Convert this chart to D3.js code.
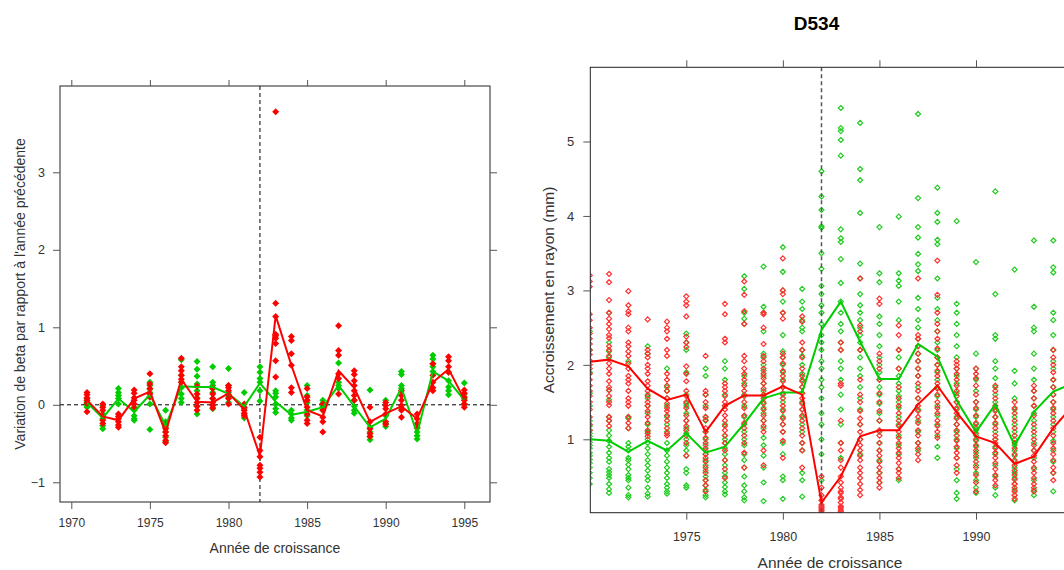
<!DOCTYPE html>
<html>
<head>
<meta charset="utf-8">
<script src="https://cdn.jsdelivr.net/npm/d3@7"></script>
<style>
body { margin: 0; background: #fff; }
</style>
</head>
<body>
<script>
// ---- left panel : variation of beta vs previous year ----
const yearsL = [1971,1972,1973,1974,1975,1976,1977,1978,1979,1980,1981,1982,1983,1984,1985,1986,1987,1988,1989,1990,1991,1992,1993,1994,1995];
const meanGreenL = [0.03,-0.17,0.08,-0.09,0.13,-0.27,0.24,0.23,0.23,0.14,-0.02,0.28,0.04,-0.13,-0.09,-0.03,0.25,-0.02,-0.29,-0.18,0.22,-0.37,0.43,0.31,0.06];
const meanRedL = [0.06,-0.15,-0.2,0.08,0.17,-0.36,0.33,0.04,0.03,0.15,-0.06,-0.66,1.15,0.51,-0.07,-0.15,0.44,0.22,-0.22,-0.11,-0.02,-0.18,0.29,0.46,0.07];
const ptsGreenL = [
  [0.08,0.03,-0.01,-0.03,0.05],
  [-0.01,-0.18,-0.27,-0.31,-0.12],
  [0.21,0.16,0.12,0.08,0.01],
  [-0.03,-0.07,-0.14,-0.18,-0.2],
  [0.29,0.25,0.2,0.16,0.1,0.01,-0.32],
  [-0.07,-0.22,-0.29,-0.35,-0.42,-0.48],
  [0.58,0.38,0.29,0.22,0.14,0.08,0.03],
  [0.56,0.46,0.37,0.27,0.18,0.09,-0.02,-0.12],
  [0.49,0.29,0.25,0.21,0.16,0.08,-0.05],
  [0.47,0.25,0.16,0.1,0.03],
  [0.16,-0.05,-0.12,-0.17],
  [0.49,0.42,0.34,0.29,0.18,0.05],
  [0.18,0.15,0.1,0.01,-0.05,-0.1],
  [-0.07,-0.12,-0.17,-0.2],
  [0.25,0.12,0.03,-0.07,-0.14],
  [0.06,0.02,-0.02,-0.07],
  [0.54,0.29,0.25,0.21],
  [0.06,-0.02,-0.07,-0.11],
  [0.19,-0.29,-0.35,-0.41,-0.45],
  [0.06,-0.14,-0.24,-0.28],
  [0.43,0.39,0.25,0.21,-0.05],
  [-0.29,-0.35,-0.4,-0.44],
  [0.64,0.59,0.53,0.49,0.43],
  [0.42,0.31,0.23,0.18,0.13],
  [0.28,0.14,0.08,0.01]
];
const ptsRedL = [
  [0.16,0.13,0.09,0.06,0.02,-0.09],
  [0.01,-0.03,-0.07,-0.14,-0.2,-0.24],
  [-0.12,-0.15,-0.18,-0.22,-0.26,-0.29],
  [0.19,0.15,0.09,0.06,0.01,-0.04],
  [0.4,0.27,0.21,0.14,0.1],
  [-0.25,-0.31,-0.35,-0.4,-0.46,-0.49],
  [0.6,0.49,0.44,0.38,0.33,0.29],
  [0.24,0.14,0.08,0.03,-0.02,-0.07],
  [0.21,0.14,0.08,0.03,-0.01,-0.04],
  [0.25,0.22,0.18,0.13,0.08,0.01],
  [0.01,-0.03,-0.07,-0.11,-0.14],
  [-0.42,-0.59,-0.67,-0.78,-0.82,-0.87,-0.93],
  [3.78,1.31,1.14,0.91,0.89,0.86,0.79,0.57,0.36],
  [0.88,0.83,0.66,0.51,0.22,0.16],
  [0.21,0.1,0.06,-0.03,-0.12,-0.2,-0.24],
  [0.01,-0.07,-0.16,-0.22,-0.35],
  [1.02,0.7,0.64,0.4,0.34,0.14],
  [0.44,0.39,0.31,0.25,0.18,0.12,0.06],
  [-0.03,-0.22,-0.31,-0.37,-0.41],
  [0.03,-0.01,-0.05,-0.12,-0.22,-0.25],
  [0.18,0.12,0.06,-0.01,-0.07,-0.16],
  [-0.12,-0.18,-0.24,-0.3],
  [0.53,0.38,0.29,0.22,0.18],
  [0.62,0.57,0.49,0.42],
  [0.19,0.15,0.1,0.06,0.01,-0.03]
];
const xTicksL = [1970,1975,1980,1985,1990,1995];
const yTicksL = [-1,0,1,2,3];

// ---- right panel : D534, radial increment ----
const yearsR = [1970,1971,1972,1973,1974,1975,1976,1977,1978,1979,1980,1981,1982,1983,1984,1985,1986,1987,1988,1989,1990,1991,1992,1993,1994,1995];
const meanGreenR = [1.0,0.98,0.83,0.98,0.85,1.08,0.82,0.9,1.21,1.55,1.63,1.63,2.47,2.85,2.31,1.81,1.81,2.28,2.11,1.52,1.1,1.47,0.92,1.37,1.64,1.75];
const meanRedR = [2.04,2.07,1.98,1.68,1.53,1.6,1.1,1.45,1.59,1.59,1.71,1.6,0.15,0.5,1.04,1.12,1.12,1.47,1.72,1.36,1.04,0.95,0.67,0.77,1.15,1.45];
const ptsGreenR = [
  [0.4,0.48,0.55,0.62,0.68,0.73,0.78,0.82,0.88,0.92,0.96,1.0,1.04,1.08,1.12,1.18,1.25,1.45,1.62,1.9,2.2,2.45],
  [2.7,2.3,2.18,2.1,1.66,1.53,1.3,1.25,1.12,1.05,0.98,0.9,0.82,0.75,0.7,0.6,0.56,0.52,0.48,0.4,0.33,0.28],
  [2.05,1.3,1.28,1.15,0.95,0.9,0.85,0.75,0.72,0.66,0.6,0.52,0.48,0.45,0.35,0.25,0.22],
  [2.25,2.15,1.6,1.55,1.45,1.35,1.2,1.1,1.0,0.95,0.88,0.8,0.72,0.65,0.58,0.5,0.45,0.35,0.27,0.23],
  [1.95,1.7,1.65,1.55,1.45,1.3,1.2,1.1,0.95,0.85,0.78,0.7,0.62,0.55,0.48,0.4,0.35,0.3,0.27],
  [2.42,2.3,2.2,1.9,1.6,1.48,1.45,1.35,1.25,1.15,1.08,1.0,0.92,0.85,0.78,0.6,0.55,0.38,0.35],
  [1.95,1.85,1.6,1.45,1.3,1.25,1.1,1.0,0.92,0.85,0.8,0.72,0.65,0.58,0.5,0.45,0.38,0.32,0.25,0.22],
  [2.05,1.95,1.8,1.6,1.45,1.2,1.05,1.0,0.95,0.88,0.8,0.72,0.65,0.55,0.5,0.42,0.36,0.3,0.26],
  [3.19,3.02,2.7,2.62,2.55,1.85,1.75,1.6,1.45,1.3,1.2,1.1,1.0,0.92,0.8,0.72,0.62,0.5,0.38,0.3,0.22,0.18],
  [3.32,2.78,2.7,2.45,2.15,2.1,2.0,1.92,1.85,1.75,1.65,1.58,1.5,1.42,1.35,1.25,1.15,1.02,0.92,0.78,0.62,0.42,0.17],
  [3.58,3.25,3.0,2.85,2.7,2.4,2.18,2.1,2.0,1.9,1.8,1.7,1.6,1.5,1.4,1.3,1.2,1.1,0.95,0.8,0.5,0.45,0.2],
  [3.02,2.85,2.75,2.6,2.5,2.45,2.2,2.12,2.0,1.88,1.8,1.7,1.62,1.5,1.4,1.3,1.2,1.1,0.95,0.85,0.55,0.45,0.23],
  [4.6,4.26,4.08,3.86,3.84,3.5,3.29,3.06,2.95,2.8,2.7,2.55,2.4,2.3,2.2,2.05,1.95,1.8,1.7,1.55,1.35,1.2,1.0,0.8,0.45],
  [5.45,5.18,5.14,5.02,4.81,3.82,3.7,3.65,3.42,3.1,2.85,2.7,2.55,2.45,2.3,2.2,2.05,1.95,1.8,1.6,1.4,1.2,0.95,0.75],
  [5.25,4.63,4.48,4.04,3.36,3.16,2.95,2.8,2.7,2.6,2.5,2.4,2.3,2.2,2.1,1.95,1.85,1.7,1.55,1.4,1.2,1.0,0.8],
  [3.85,3.23,3.11,2.65,2.55,2.4,2.25,2.1,2.0,1.9,1.8,1.7,1.6,1.48,1.35,1.25,1.1,0.95,0.85,0.72,0.55,0.42],
  [3.99,3.23,3.13,3.06,2.85,2.6,2.2,2.1,1.95,1.85,1.75,1.65,1.58,1.5,1.42,1.3,1.2,1.05,0.92,0.8,0.6,0.45],
  [5.37,4.24,3.85,3.71,3.49,3.35,3.26,2.9,2.75,2.6,2.5,2.35,2.25,2.15,2.05,1.95,1.85,1.7,1.55,1.4,1.25,1.1,0.95,0.85],
  [4.38,4.04,3.92,3.68,3.62,3.16,2.9,2.75,2.6,2.45,2.3,2.2,2.1,2.0,1.9,1.8,1.7,1.58,1.45,1.32,1.2,1.05,0.9,0.75],
  [3.93,2.82,2.7,2.55,2.4,2.25,2.1,1.95,1.85,1.75,1.62,1.5,1.4,1.3,1.2,1.1,1.0,0.88,0.75,0.6,0.45,0.28,0.2],
  [3.38,2.15,1.95,1.8,1.65,1.5,1.4,1.3,1.2,1.12,1.05,0.98,0.9,0.82,0.75,0.65,0.55,0.45,0.35,0.28],
  [4.33,2.95,2.4,2.35,2.05,1.95,1.82,1.7,1.6,1.5,1.4,1.3,1.2,1.1,1.0,0.9,0.8,0.65,0.5,0.35,0.25],
  [3.28,1.92,1.75,1.55,1.4,1.3,1.2,1.1,1.0,0.92,0.85,0.78,0.7,0.62,0.55,0.48,0.4,0.32,0.25,0.18],
  [3.67,2.78,2.5,2.45,2.15,1.95,1.8,1.65,1.55,1.45,1.35,1.25,1.15,1.05,0.95,0.85,0.75,0.6,0.45,0.32,0.25],
  [3.67,3.31,3.24,2.7,2.6,2.4,2.2,2.05,1.95,1.8,1.7,1.6,1.5,1.4,1.3,1.2,1.1,0.98,0.85,0.7,0.55,0.3],
  [2.6,2.1,1.8,1.5,1.2]
];
const ptsRedR = [
  [3.2,3.12,3.05,2.68,2.6,2.5,2.42,2.35,2.28,2.2,2.14,2.06,2.0,1.95,1.88,1.8,1.72,1.65,1.58,1.5,1.4,1.3,1.2,1.12],
  [3.22,3.11,2.87,2.7,2.62,2.55,2.48,2.4,2.36,2.25,2.2,2.12,2.02,1.95,1.88,1.78,1.7,1.66,1.58,1.5,1.46,1.3,1.25,1.18],
  [2.99,2.8,2.72,2.68,2.5,2.45,2.3,2.25,2.18,2.12,2.02,1.95,1.85,1.8,1.75,1.65,1.55,1.5,1.45,1.3,1.22,1.15],
  [2.61,2.2,2.15,2.1,2.0,1.95,1.88,1.78,1.72,1.65,1.58,1.5,1.45,1.38,1.3,1.22,1.12,1.08,1.04],
  [2.58,2.5,2.45,2.35,2.2,2.12,1.88,1.8,1.72,1.65,1.55,1.48,1.42,1.38,1.32,1.25,1.15,1.08,1.05],
  [2.92,2.85,2.8,2.65,2.38,2.3,2.24,1.98,1.88,1.78,1.65,1.58,1.5,1.42,1.32,1.25,1.18,1.12,1.05,0.95,0.78],
  [2.12,1.65,1.6,1.5,1.42,1.3,1.26,1.15,1.1,1.02,0.95,0.88,0.8,0.75,0.7,0.62,0.55,0.45,0.38,0.3],
  [2.82,2.68,2.35,2.3,1.75,1.7,1.65,1.58,1.5,1.45,1.4,1.32,1.25,1.18,1.12,1.05,0.95,0.85,0.72,0.6,0.48],
  [3.12,2.94,2.72,2.55,2.12,2.05,1.95,1.88,1.8,1.72,1.65,1.58,1.5,1.42,1.32,1.22,1.15,1.05,0.95,0.82,0.62],
  [2.7,2.68,2.5,2.28,2.12,2.05,1.95,1.88,1.82,1.75,1.68,1.6,1.55,1.48,1.4,1.32,1.25,1.18,1.1,0.85,0.65],
  [3.43,3.0,2.95,2.7,2.62,2.15,2.1,2.02,1.92,1.85,1.78,1.7,1.62,1.55,1.45,1.38,1.28,1.2,1.1,0.98,0.75],
  [2.65,2.58,2.3,2.2,2.1,1.95,1.85,1.78,1.7,1.62,1.55,1.48,1.4,1.32,1.25,1.15,1.05,0.95,0.85,0.62],
  [0.5,0.35,0.25,0.18,0.12,0.1,0.08,0.06,0.04,0.02],
  [2.3,2.2,1.75,1.72,1.25,0.95,0.85,0.72,0.62,0.5,0.42,0.35,0.3,0.28,0.22,0.2,0.15,0.1,0.08,0.05,0.03],
  [3.16,2.53,2.45,2.2,1.8,1.6,1.5,1.38,1.28,1.2,1.1,1.0,0.92,0.85,0.78,0.72,0.62,0.55,0.48,0.4,0.32,0.25],
  [2.89,2.82,2.15,2.05,1.95,1.8,1.62,1.5,1.38,1.25,1.12,1.05,0.95,0.85,0.78,0.7,0.62,0.55,0.48,0.42,0.35],
  [2.53,2.4,2.2,1.95,1.7,1.55,1.45,1.35,1.25,1.18,1.1,1.02,0.95,0.88,0.82,0.75,0.68,0.6,0.55,0.48],
  [3.16,2.4,2.35,2.25,2.15,2.05,1.95,1.85,1.75,1.65,1.55,1.45,1.38,1.3,1.22,1.12,1.05,0.95,0.88,0.8,0.72],
  [3.4,2.94,2.7,2.55,2.45,2.35,2.22,2.1,2.0,1.92,1.85,1.75,1.68,1.6,1.5,1.42,1.35,1.25,1.18,1.1,1.02],
  [2.05,2.0,1.95,1.88,1.8,1.72,1.65,1.58,1.5,1.42,1.35,1.28,1.2,1.12,1.05,0.98,0.9,0.82,0.75,0.65,0.55],
  [1.95,1.88,1.82,1.72,1.6,1.5,1.42,1.32,1.22,1.15,1.08,1.0,0.92,0.85,0.78,0.7,0.62,0.52,0.42,0.3],
  [1.72,1.65,1.55,1.45,1.38,1.3,1.22,1.15,1.05,1.0,0.95,0.88,0.82,0.75,0.68,0.6,0.52,0.45,0.38],
  [1.5,1.42,1.35,1.25,1.15,1.05,0.95,0.88,0.8,0.72,0.65,0.58,0.52,0.46,0.4,0.35,0.3,0.25,0.2],
  [1.72,1.65,1.55,1.45,1.32,1.2,1.1,1.0,0.92,0.85,0.78,0.7,0.62,0.55,0.48,0.4,0.35,0.3],
  [2.2,2.1,2.0,1.9,1.8,1.7,1.6,1.5,1.42,1.35,1.25,1.15,1.05,0.95,0.88,0.8,0.72,0.62,0.55,0.45],
  [2.2,1.8,1.5,1.2,0.9]
];
const xTicksR = [1970,1975,1980,1985,1990,1995];
const yTicksR = [1,2,3,4,5];

const GREEN = "#00cd00", RED = "#ff0000";
const FONT = "'Liberation Sans', Arial, sans-serif";
const W = 1064, H = 570;

const svg = d3.select("body").append("svg")
  .attr("width", W).attr("height", H)
  .style("font-family", FONT);

function diamond(r) {
  return "M0," + (-r) + "L" + r + ",0L0," + r + "L" + (-r) + ",0Z";
}

function flat(years, pts) {
  const out = [];
  years.forEach((yr, i) => pts[i].forEach(v => out.push([yr, v])));
  return out;
}

function styleAxis(g, size, color) {
  g.select(".domain").remove();
  g.attr("font-family", FONT).attr("font-size", size);
  g.selectAll("line").attr("stroke", "#555");
  g.selectAll("text").attr("fill", color);
}

// ================= LEFT PANEL =================
const boxL = {x0: 60, x1: 490, y0: 86, y1: 502};
const xL = d3.scaleLinear().domain([1970, 1995]).range([71.3, 464.3]);
const yL = d3.scaleLinear().domain([-1, 3]).range([482.3, 172.3]);

svg.append("clipPath").attr("id", "clipL").append("rect")
  .attr("x", boxL.x0).attr("y", boxL.y0)
  .attr("width", boxL.x1 - boxL.x0).attr("height", boxL.y1 - boxL.y0);

const gL = svg.append("g").attr("clip-path", "url(#clipL)");

gL.append("line")
  .attr("x1", boxL.x0).attr("x2", boxL.x1)
  .attr("y1", yL(0)).attr("y2", yL(0))
  .attr("stroke", "#000").attr("stroke-dasharray", "4,3");
gL.append("line")
  .attr("x1", xL(1982)).attr("x2", xL(1982))
  .attr("y1", boxL.y0).attr("y2", boxL.y1)
  .attr("stroke", "#000").attr("stroke-dasharray", "4,3");

gL.selectAll("path.pg").data(flat(yearsL, ptsGreenL)).enter()
  .append("path").attr("class", "pg")
  .attr("d", diamond(3.5))
  .attr("transform", d => "translate(" + xL(d[0]) + "," + yL(d[1]) + ")")
  .attr("fill", GREEN);
gL.selectAll("path.pr").data(flat(yearsL, ptsRedL)).enter()
  .append("path").attr("class", "pr")
  .attr("d", diamond(3.5))
  .attr("transform", d => "translate(" + xL(d[0]) + "," + yL(d[1]) + ")")
  .attr("fill", RED);

const lineL = d3.line().x((d, i) => xL(yearsL[i])).y(d => yL(d));
gL.append("path").attr("d", lineL(meanGreenL))
  .attr("fill", "none").attr("stroke", GREEN).attr("stroke-width", 2);
gL.append("path").attr("d", lineL(meanRedL))
  .attr("fill", "none").attr("stroke", RED).attr("stroke-width", 2);

svg.append("rect")
  .attr("x", boxL.x0).attr("y", boxL.y0)
  .attr("width", boxL.x1 - boxL.x0).attr("height", boxL.y1 - boxL.y0)
  .attr("fill", "none").attr("stroke", "#222");

svg.append("g").attr("transform", "translate(0," + boxL.y1 + ")")
  .call(d3.axisBottom(xL).tickValues(xTicksL).tickFormat(d3.format("d")).tickSize(7).tickPadding(9))
  .call(g => styleAxis(g, 12, "#333"));
svg.append("g").attr("transform", "translate(0," + boxL.y0 + ")")
  .call(d3.axisTop(xL).tickValues(xTicksL).tickFormat("").tickSize(6))
  .call(g => styleAxis(g, 12, "#333"));
svg.append("g").attr("transform", "translate(" + boxL.x0 + ",0)")
  .call(d3.axisLeft(yL).tickValues(yTicksL).tickFormat(d3.format("d")).tickSize(7).tickPadding(8))
  .call(g => styleAxis(g, 12.5, "#333"));
svg.append("g").attr("transform", "translate(" + boxL.x1 + ",0)")
  .call(d3.axisRight(yL).tickValues(yTicksL).tickFormat("").tickSize(7))
  .call(g => styleAxis(g, 12.5, "#333"));

svg.append("text").attr("x", 275).attr("y", 552.5)
  .attr("text-anchor", "middle").attr("font-size", 14).attr("fill", "#333")
  .text("Année de croissance");
svg.append("text").attr("transform", "translate(24.5,294) rotate(-90)")
  .attr("text-anchor", "middle").attr("font-size", 14).attr("fill", "#333")
  .text("Variation de beta par rapport à l'année précédente");

// ================= RIGHT PANEL =================
const boxR = {x0: 590.3, x1: 1090, y0: 67.3, y1: 512.7};
const xR = d3.scaleLinear().domain([1975, 1990]).range([686.3, 976]);
const yR = d3.scaleLinear().domain([1, 5]).range([439.3, 141.5]);

svg.append("clipPath").attr("id", "clipR").append("rect")
  .attr("x", boxR.x0).attr("y", boxR.y0)
  .attr("width", boxR.x1 - boxR.x0).attr("height", boxR.y1 - boxR.y0);

const gR = svg.append("g").attr("clip-path", "url(#clipR)");

gR.selectAll("path.og").data(flat(yearsR, ptsGreenR)).enter()
  .append("path").attr("class", "og")
  .attr("d", diamond(2.5))
  .attr("transform", d => "translate(" + xR(d[0]) + "," + yR(d[1]) + ")")
  .attr("fill", "none").attr("stroke", "#22cc22").attr("stroke-width", 1.2);
gR.selectAll("path.or").data(flat(yearsR, ptsRedR)).enter()
  .append("path").attr("class", "or")
  .attr("d", diamond(2.5))
  .attr("transform", d => "translate(" + xR(d[0]) + "," + yR(d[1]) + ")")
  .attr("fill", "none").attr("stroke", "#ff3030").attr("stroke-width", 1.2);

gR.append("line")
  .attr("x1", xR(1982)).attr("x2", xR(1982))
  .attr("y1", boxR.y0).attr("y2", boxR.y1)
  .attr("stroke", "#555").attr("stroke-width", 1.5).attr("stroke-dasharray", "4,3");

const lineR = d3.line().x((d, i) => xR(yearsR[i])).y(d => yR(d));
gR.append("path").attr("d", lineR(meanGreenR))
  .attr("fill", "none").attr("stroke", GREEN).attr("stroke-width", 2);
gR.append("path").attr("d", lineR(meanRedR))
  .attr("fill", "none").attr("stroke", RED).attr("stroke-width", 2);

svg.append("rect")
  .attr("x", boxR.x0).attr("y", boxR.y0)
  .attr("width", boxR.x1 - boxR.x0).attr("height", boxR.y1 - boxR.y0)
  .attr("fill", "none").attr("stroke", "#222");

// only the ticks whose label fits in the window
const xTicksRIn = xTicksR.filter(t => xR(t) > boxR.x0 + 1 && xR(t) + 15 < W);
svg.append("g").attr("transform", "translate(0," + boxR.y1 + ")")
  .call(d3.axisBottom(xR).tickValues(xTicksRIn).tickFormat(d3.format("d")).tickSize(7).tickPadding(12))
  .call(g => styleAxis(g, 12.5, "#333"));
svg.append("g").attr("transform", "translate(0," + boxR.y0 + ")")
  .call(d3.axisTop(xR).tickValues(xTicksRIn).tickFormat("").tickSize(7))
  .call(g => styleAxis(g, 12.5, "#333"));
svg.append("g").attr("transform", "translate(" + boxR.x0 + ",0)")
  .call(d3.axisLeft(yR).tickValues(yTicksR).tickFormat(d3.format("d")).tickSize(7).tickPadding(9))
  .call(g => styleAxis(g, 13, "#333"));

svg.append("text").attr("x", 830).attr("y", 568)
  .attr("text-anchor", "middle").attr("font-size", 15.5).attr("fill", "#333")
  .text("Année de croissance");
svg.append("text").attr("transform", "translate(554,290) rotate(-90)")
  .attr("text-anchor", "middle").attr("font-size", 15.5).attr("fill", "#333")
  .text("Accroissement en rayon (mm)");
svg.append("text").attr("x", 816.5).attr("y", 29.5)
  .attr("text-anchor", "middle").attr("font-size", 19).attr("font-weight", "bold")
  .attr("fill", "#000")
  .text("D534");
</script>
</body>
</html>
